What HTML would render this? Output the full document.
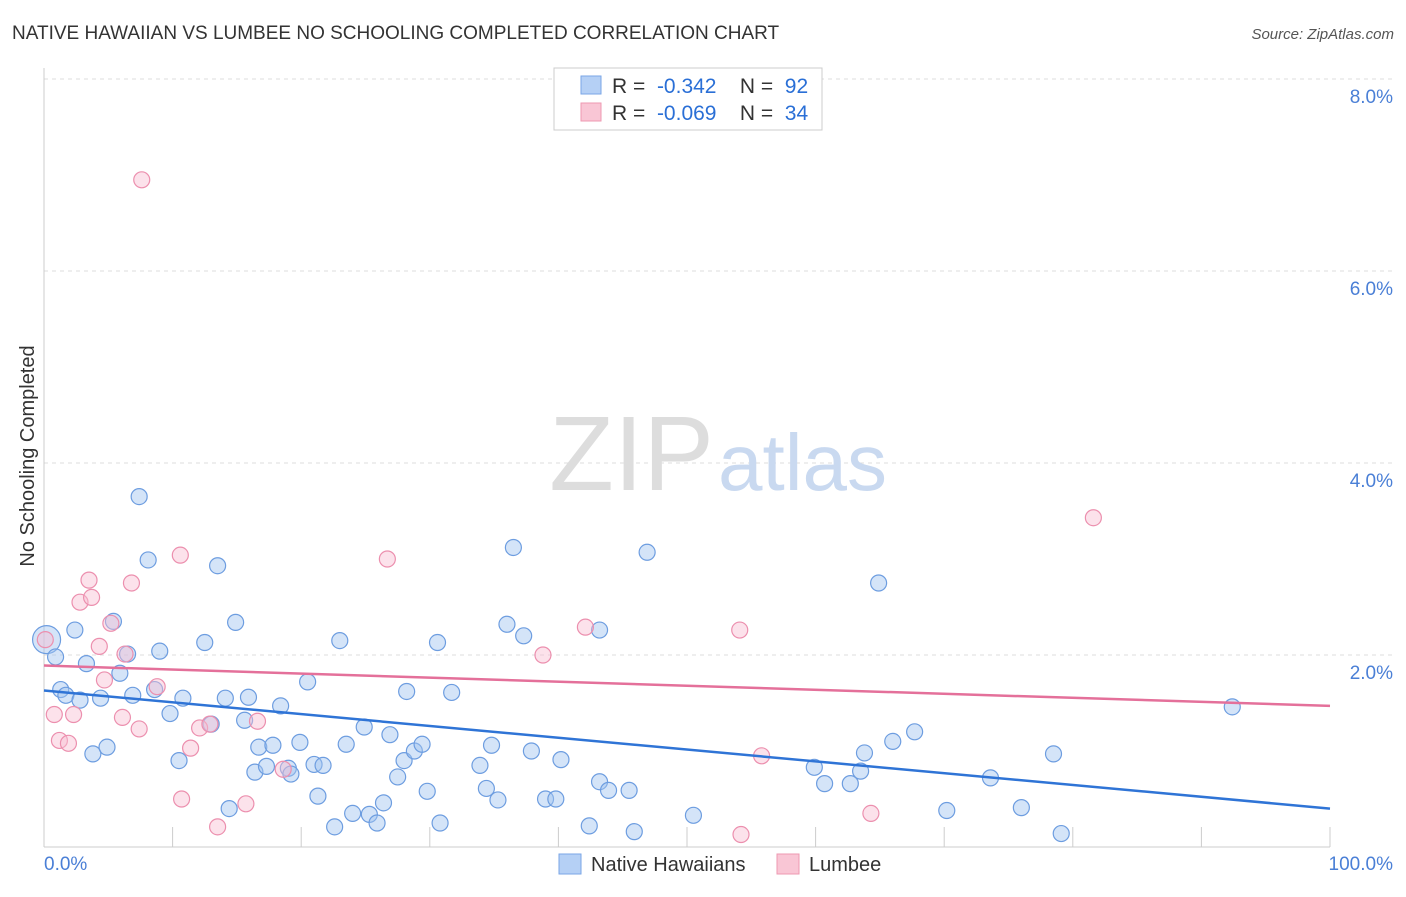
<!DOCTYPE html>
<html><head><meta charset="utf-8"><style>
body{margin:0;background:#fff;font-family:"Liberation Sans",sans-serif;}
svg text{font-family:"Liberation Sans",sans-serif;}
</style></head><body>
<svg id="c" width="1406" height="892">
<text x="12" y="39" font-size="19" fill="#333">NATIVE HAWAIIAN VS LUMBEE NO SCHOOLING COMPLETED CORRELATION CHART</text>
<text x="1394" y="39" font-size="15" fill="#555" text-anchor="end" font-style="italic">Source: ZipAtlas.com</text>
<text x="34" y="456" font-size="20" fill="#333" text-anchor="middle" transform="rotate(-90 34 456)">No Schooling Completed</text>
<g id="grid"></g><g id="pts"></g>
<text x="714" y="490" font-size="106" fill="#ddd" text-anchor="end" font-family="Liberation Serif">ZIP</text>
<text x="718" y="490" font-size="80" fill="#c9d9f0">atlas</text>
<g>
<rect x="554" y="68" width="268" height="62" fill="#fff" stroke="#ccc"/>
<rect x="581" y="76" width="20" height="18" fill="#b5d0f5" stroke="#7aa6e6"/>
<rect x="581" y="103" width="20" height="18" fill="#f9c6d5" stroke="#ee98b1"/>
<text x="612" y="93" font-size="21" fill="#333" xml:space="preserve">R =  <tspan fill="#2a6fd6">-0.342</tspan>    N =  <tspan fill="#2a6fd6">92</tspan></text>
<text x="612" y="120" font-size="21" fill="#333" xml:space="preserve">R =  <tspan fill="#2a6fd6">-0.069</tspan>    N =  <tspan fill="#2a6fd6">34</tspan></text>
</g>
<g>
<rect x="559" y="854" width="22" height="20" fill="#b5d0f5" stroke="#7aa6e6"/>
<text x="591" y="871" font-size="20" fill="#333">Native Hawaiians</text>
<rect x="777" y="854" width="22" height="20" fill="#f9c6d5" stroke="#ee98b1"/>
<text x="809" y="871" font-size="20" fill="#333">Lumbee</text>
</g>
</svg>
<script>
const yTicks=[2,4,6,8];
const xTickLabels=["0.0%","100.0%"];
const blueX=[0.2,0.9,1.3,1.7,2.4,2.8,3.3,3.8,4.4,4.9,5.4,5.9,6.5,6.9,7.4,8.1,8.6,9.0,9.8,10.5,10.8,12.5,13.0,13.5,14.1,14.4,14.9,15.6,15.9,16.4,16.7,17.3,17.8,18.4,19.0,19.2,19.9,20.5,21.0,21.3,21.7,22.6,23.0,23.5,24.0,24.9,25.3,25.9,26.4,26.9,27.5,28.0,28.8,29.4,28.2,29.8,30.6,30.8,31.7,33.9,34.4,34.8,35.3,36.0,36.5,37.3,37.9,39.0,39.8,40.2,42.4,43.2,43.2,43.9,45.5,45.9,46.9,50.5,59.9,60.7,62.7,63.5,63.8,64.9,66.0,67.7,70.2,73.6,76.0,78.5,79.1,92.4];
const blueY=[2.16,1.98,1.64,1.58,2.26,1.53,1.91,0.97,1.55,1.04,2.35,1.81,2.01,1.58,3.65,2.99,1.64,2.04,1.39,0.90,1.55,2.13,1.28,2.93,1.55,0.40,2.34,1.32,1.56,0.78,1.04,0.84,1.06,1.47,0.82,0.76,1.09,1.72,0.86,0.53,0.85,0.21,2.15,1.07,0.35,1.25,0.34,0.25,0.46,1.17,0.73,0.90,1.00,1.07,1.62,0.58,2.13,0.25,1.61,0.85,0.61,1.06,0.49,2.32,3.12,2.20,1.00,0.50,0.50,0.91,0.22,2.26,0.68,0.59,0.59,0.16,3.07,0.33,0.83,0.66,0.66,0.79,0.98,2.75,1.10,1.20,0.38,0.72,0.41,0.97,0.14,1.46];
const pinkX=[0.1,0.8,1.2,1.9,2.3,2.8,3.5,3.7,4.3,4.7,5.2,6.1,6.3,6.8,7.4,7.6,8.8,10.6,10.7,11.4,12.1,12.9,13.5,15.7,16.6,18.6,26.7,38.8,42.1,54.1,54.2,55.8,64.3,81.6];
const pinkY=[2.16,1.38,1.11,1.08,1.38,2.55,2.78,2.60,2.09,1.74,2.33,1.35,2.01,2.75,1.23,6.95,1.67,3.04,0.50,1.03,1.24,1.28,0.21,0.45,1.31,0.81,3.0,2.00,2.29,2.26,0.13,0.95,0.35,3.43];
const blueFit=[1.63,0.40], pinkFit=[1.89,1.47];
const X0=44,X1=1330,Y0=847,PY=96;
const sx=v=>X0+(X1-X0)*v/100, sy=v=>Y0-PY*v;
const NS="http://www.w3.org/2000/svg";
function mk(t,a,p){const e=document.createElementNS(NS,t);for(const k in a)e.setAttribute(k,a[k]);p.appendChild(e);return e;}
const g=document.getElementById('grid'),P=document.getElementById('pts');
yTicks.forEach(v=>{
 const l=mk('line',{x1:X0,x2:1394,y1:sy(v),y2:sy(v),stroke:'#ddd','stroke-dasharray':'4,4'},g);
 
 
 const t=mk('text',{x:1393,y:sy(v)+24,'font-size':19,fill:'#4a7fd6','text-anchor':'end'},g);
 t.textContent=v.toFixed(1)+'%';
 
 
});
mk('line',{x1:X0,x2:X0,y1:68,y2:847,stroke:'#ccc'},g);
mk('line',{x1:X0,x2:X1,y1:847,y2:847,stroke:'#ccc'},g);
for(let i=0;i<=10;i++){const l=mk('line',{x1:sx(i*10),x2:sx(i*10),y1:827,y2:847,stroke:'#ccc'},g);
 
 }
[[0,'start',44],[1,'end',1393]].forEach(([i,a,x])=>{const t=mk('text',{x:x,y:870,'font-size':19,fill:'#4a7fd6','text-anchor':a},g);t.textContent=xTickLabels[i];
 
 });
blueX.forEach((x,i)=>{const c=mk('circle',{cx:sx(x),cy:sy(blueY[i]),r:i==0?14:8,fill:'rgba(160,195,240,0.45)',stroke:'#6d9de0','stroke-width':1.2},P);
 
 });
pinkX.forEach((x,i)=>{const c=mk('circle',{cx:sx(x),cy:sy(pinkY[i]),r:8,fill:'rgba(248,190,210,0.45)',stroke:'#ec8fae','stroke-width':1.2},P);
 
 });
const bl=mk('line',{x1:sx(0),y1:sy(blueFit[0]),x2:sx(100),y2:sy(blueFit[1]),stroke:'#2f74d6','stroke-width':2.5},P);


const pl=mk('line',{x1:sx(0),y1:sy(pinkFit[0]),x2:sx(100),y2:sy(pinkFit[1]),stroke:'#e4709a','stroke-width':2.5},P);


</script>
</body></html>
